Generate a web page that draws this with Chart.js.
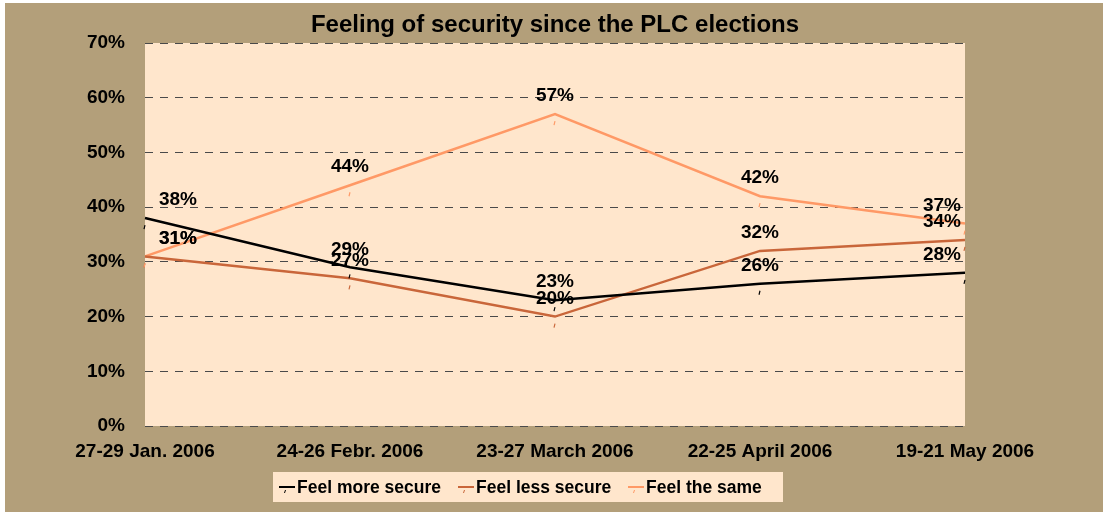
<!DOCTYPE html>
<html>
<head>
<meta charset="utf-8">
<script src="https://cdn.jsdelivr.net/npm/chart.js@4"></script>
<style>
  html, body { margin: 0; padding: 0; background: #ffffff; }
  #wrap { width: 1103px; height: 512px; }
</style>
</head>
<body>
<div id="wrap"><canvas id="chart"></canvas></div>
<script>
// Chart data
const categories = ['27-29 Jan. 2006', '24-26 Febr. 2006', '23-27 March 2006', '22-25 April 2006', '19-21 May 2006'];
const moreSecure = [38, 29, 23, 26, 28];
const lessSecure = [31, 27, 20, 32, 34];
const feelSame = [31, 44, 57, 42, 37];
const yTicks = [0, 10, 20, 30, 40, 50, 60, 70];
const chartTitle = 'Feeling of security since the PLC elections';

const BG = '#b39f7a';
const PLOT_BG = '#ffe6cc';
const FONT = 'Arial, "Liberation Sans", sans-serif';
const legendX = [279, 458, 628];

// Background, plot area, title and legend (Excel style, drawn by hand)
const decorations = {
  id: 'decorations',
  beforeDraw(chart) {
    const { ctx, chartArea: a } = chart;
    ctx.save();
    ctx.fillStyle = BG;
    ctx.fillRect(5, 3, chart.width - 5, chart.height - 3);
    ctx.fillStyle = PLOT_BG;
    ctx.fillRect(a.left, a.top, a.right - a.left, a.bottom - a.top);
    ctx.restore();
  },
  afterDraw(chart) {
    const { ctx } = chart;
    ctx.save();
    ctx.fillStyle = '#000';
    ctx.textAlign = 'center';
    ctx.textBaseline = 'middle';
    ctx.font = 'bold 24px ' + FONT;
    ctx.fillText(chartTitle, 555, 25);

    // legend box
    ctx.fillStyle = PLOT_BG;
    ctx.fillRect(273, 472, 510, 30);
    ctx.font = 'bold 17.5px ' + FONT;
    ctx.textAlign = 'left';
    chart.data.datasets.forEach((ds, i) => {
      const x = legendX[i];
      ctx.strokeStyle = ds.borderColor;
      ctx.lineWidth = 2;
      ctx.beginPath();
      ctx.moveTo(x, 487);
      ctx.lineTo(x + 16, 487);
      ctx.stroke();
      ctx.lineWidth = 1;
      ctx.beginPath();
      ctx.moveTo(x + 5.5, 493);
      ctx.lineTo(x + 6.5, 490);
      ctx.stroke();
      ctx.fillStyle = '#000';
      ctx.fillText(ds.label, x + 18, 488);
    });
    ctx.restore();
  }
};

// Percent labels above each point, plus the small tick marks under them
const pointLabels = {
  id: 'pointLabels',
  afterDatasetsDraw(chart) {
    const { ctx, chartArea: a } = chart;
    ctx.save();
    chart.data.datasets.forEach((ds, i) => {
      const meta = chart.getDatasetMeta(i);
      meta.data.forEach((pt) => {
        ctx.strokeStyle = ds.borderColor;
        ctx.lineWidth = 1.2;
        ctx.beginPath();
        ctx.moveTo(pt.x - 1, pt.y + 11);
        ctx.lineTo(pt.x, pt.y + 7);
        ctx.stroke();
      });
    });
    ctx.font = 'bold 19px ' + FONT;
    ctx.fillStyle = '#000';
    ctx.textAlign = 'center';
    ctx.textBaseline = 'middle';
    chart.data.datasets.forEach((ds, i) => {
      const meta = chart.getDatasetMeta(i);
      meta.data.forEach((pt, j) => {
        const x = Math.min(Math.max(pt.x, a.left + 33), a.right - 23);
        ctx.fillText(ds.data[j] + '%', x, pt.y - 18);
      });
    });
    ctx.restore();
  }
};

new Chart(document.getElementById('chart'), {
  type: 'line',
  data: {
    labels: categories,
    datasets: [
      { label: 'Feel more secure', data: moreSecure, borderColor: '#000000', borderWidth: 2.5 },
      { label: 'Feel less secure', data: lessSecure, borderColor: '#c9663a', borderWidth: 2.5 },
      { label: 'Feel the same', data: feelSame, borderColor: '#ff9966', borderWidth: 2.5 },
    ].map(d => Object.assign(d, { fill: false, tension: 0, pointRadius: 0, pointHoverRadius: 0, backgroundColor: d.borderColor })),
  },
  options: {
    responsive: true,
    maintainAspectRatio: false,
    animation: false,
    layout: { padding: { left: 0, right: 138, top: 43, bottom: 46 } },
    plugins: {
      title: { display: false },
      legend: { display: false },
      tooltip: { enabled: false },
    },
    scales: {
      x: {
        offset: false,
        grid: { display: false, drawTicks: false },
        border: { display: false },
        ticks: { color: '#000', font: { family: FONT, size: 19, weight: 'bold' }, padding: 14, maxRotation: 0, autoSkip: false },
        afterFit: (s) => { s.height = 40; },
      },
      y: {
        min: 0,
        max: 70,
        afterBuildTicks: (s) => { s.ticks = yTicks.map(v => ({ value: v })); },
        grid: { color: '#4a4a4a', lineWidth: 1, drawTicks: false },
        border: { display: false, dash: [8, 7] },
        ticks: { color: '#000', font: { family: FONT, size: 19, weight: 'bold' }, padding: 20, callback: (v) => v + '%' },
        afterFit: (s) => { s.width = 145; },
      },
    },
  },
  plugins: [decorations, pointLabels],
});
</script>
</body>
</html>
